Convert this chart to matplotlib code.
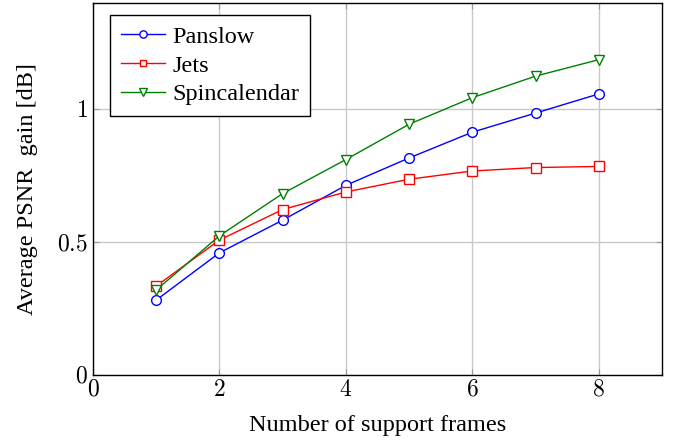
import matplotlib
matplotlib.use('Agg')
import matplotlib.pyplot as plt

# support frame counts and PSNR gains
frames = [1, 2, 3, 4, 5, 6, 7, 8]
panslow = [0.282, 0.460, 0.583, 0.714, 0.817, 0.914, 0.986, 1.058]
jets = [0.335, 0.508, 0.623, 0.689, 0.737, 0.768, 0.781, 0.785]
spincalendar = [0.320, 0.524, 0.683, 0.811, 0.944, 1.044, 1.125, 1.187]

x_ticks = [0, 2, 4, 6, 8]
y_ticks = [0, 0.5, 1]

plt.rcParams['font.family'] = ['Liberation Serif', 'DejaVu Serif']
plt.rcParams['mathtext.fontset'] = 'cm'

fig = plt.figure(figsize=(6.81, 4.43), dpi=100)
ax = fig.add_axes([0.1366, 0.1535, 0.8354, 0.8395])

ax.plot(frames, panslow, color='#0000ff', marker='o', markersize=7, markerfacecolor='white',
        markeredgewidth=1.0, linewidth=1.0, label='Panslow')
ax.plot(frames, jets, color='#ff0000', marker='s', markersize=6.5, markerfacecolor='white',
        markeredgewidth=1.0, linewidth=1.0, label='Jets')
ax.plot(frames, spincalendar, color='#008000', marker='v', markersize=7.5, markerfacecolor='white',
        markeredgewidth=1.0, linewidth=1.0, label='Spincalendar')

ax.set_xlim(0, 9)
ax.set_ylim(0, 1.4)
ax.set_xticks(x_ticks)
ax.set_yticks(y_ticks)
ax.set_xticklabels(['$%g$' % t for t in x_ticks])
ax.set_yticklabels(['$%g$' % t for t in y_ticks])
ax.tick_params(direction='in', top=True, right=True, labelsize=17, length=4, color='#999999')
ax.grid(True, color='#c8c8c8', linewidth=1.0)
ax.set_axisbelow(True)
for s in ax.spines.values():
    s.set_linewidth(1.0)

ax.set_xlabel('Number of support frames', fontsize=17.5, labelpad=10)
ax.set_ylabel('Average PSNR  gain [dB]', fontsize=17.5, labelpad=14)

leg = ax.legend(loc='upper left', bbox_to_anchor=(0.03, 0.968), fontsize=17.5, fancybox=False,
                edgecolor='black', framealpha=1, borderpad=0.45, handlelength=1.8,
                labelspacing=0.27, handletextpad=0.3, borderaxespad=0, markerscale=0.75)
leg.get_frame().set_linewidth(1.0)

fig.savefig('out.png', dpi=100)
